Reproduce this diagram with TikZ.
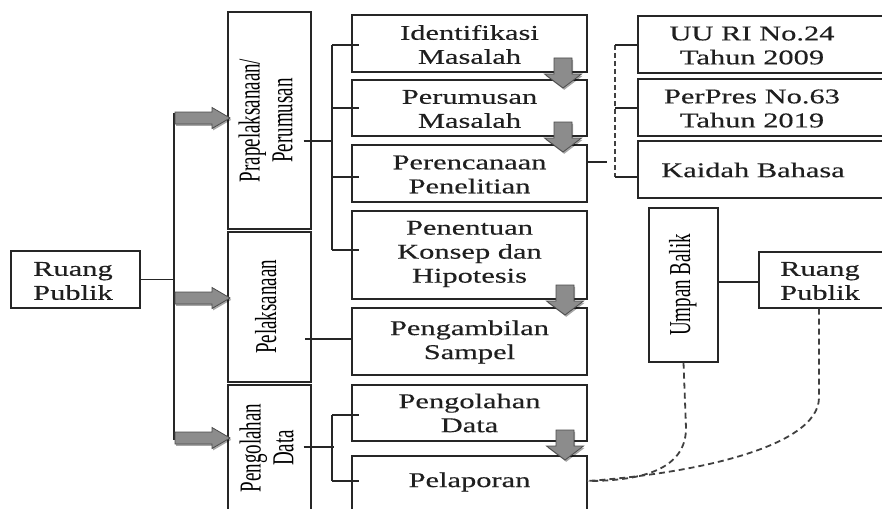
\documentclass[tikz,border=0pt]{standalone}
\usepackage{graphicx}
\usepackage{fontspec}
\setmainfont{Liberation Serif}
\newfontfamily\widefont[FakeStretch=1.45, FakeBold=0.3]{Liberation Serif}
\usetikzlibrary{shadows,calc}
\newcommand{\vtxt}[1]{\rotatebox{90}{\scalebox{1}[1.6]{\fontsize{19}{20.5}\selectfont\begin{tabular}{@{}c@{}}#1\end{tabular}}}}
\tikzset{
  box/.style={draw=black!85, line width=1.2pt, inner sep=0pt, fill=white},
  htext/.style={font=\widefont\fontsize{21}{24}\selectfont, align=center, text=black!88, inner sep=0pt},
  link/.style={draw=black!85, line width=1.1pt},
  dlink/.style={draw=black!75, line width=1.8pt, dash pattern=on 6pt off 4pt},
  arrowfill/.style={fill=black!45, draw=black!70, line width=0.8pt,
     drop shadow={shadow xshift=1.2pt, shadow yshift=-1.8pt, opacity=0.35, fill=black}},
  rarrow/.pic={\path[arrowfill] (0,-6) -- (37,-6) -- (37,-10.5) -- (55,0) -- (37,10.5) -- (37,6) -- (0,6) -- cycle;},
  darrow/.pic={\path[arrowfill] (-9,0) -- (9,0) -- (9,16) -- (18.5,16) -- (0,30) -- (-18.5,16) -- (-9,16) -- cycle;}
}
\begin{document}
\begin{tikzpicture}[x=1pt,y=-1pt]
\useasboundingbox (0,0) rectangle (882,508);
\clip (0,0) rectangle (882,508);

% left box
\node[box, minimum width=129pt, minimum height=57pt] (rpl) at (75.5,279.5) {};
\node[htext] (rplt) at (73,281) {Ruang\\Publik};

% column 2
\node[box, minimum width=83pt, minimum height=217pt] (pra) at (269.5,120.5) {\vtxt{Prapelaksanaan/\\Perumusan}};
\node[box, minimum width=83pt, minimum height=150pt] (pel) at (269.5,307) {\vtxt{Pelaksanaan}};
\node[box, minimum width=83pt, minimum height=136pt] (peng) at (269.5,453) {};
\node (pengt) at (270.5,448) {\vtxt{Pengolahan\\Data}};

% column 3
\node[box, minimum width=235pt, minimum height=57pt] (idn) at (469.5,43.5) {};
\node[htext] (idnt) at (469.5,44.5) {Identifikasi\\Masalah};
\node[box, minimum width=235pt, minimum height=56pt] (prm) at (469.5,108) {};
\node[htext] (prmt) at (469.5,109) {Perumusan\\Masalah};
\node[box, minimum width=235pt, minimum height=57pt] (prc) at (469.5,173.5) {};
\node[htext] (prct) at (469.5,174.5) {Perencanaan\\Penelitian};
\node[box, minimum width=235pt, minimum height=88pt] (pnt) at (469.5,255) {};
\node[htext] (pntt) at (469.5,254) {Penentuan\\Konsep dan\\Hipotesis};
\node[box, minimum width=235pt, minimum height=67pt] (pmb) at (469.5,341.5) {};
\node[htext] (pmbt) at (469.5,342) {Pengambilan\\Sampel};
\node[box, minimum width=235pt, minimum height=56pt] (pld) at (469.5,413) {};
\node[htext] (pldt) at (469.5,413) {Pengolahan\\Data};
\node[box, minimum width=235pt, minimum height=70pt] (plp) at (469.5,491) {};
\node[htext] (plpt) at (469.5,482) {Pelaporan};

% column 4
\node[box, minimum width=262pt, minimum height=57pt] (uu) at (769,44.5) {};
\node[htext] (uut) at (752,45.5) {UU RI No.24\\Tahun 2009};
\node[box, minimum width=262pt, minimum height=57pt] (pp) at (769,107.5) {};
\node[htext] (ppt) at (752,108.5) {PerPres No.63\\Tahun 2019};
\node[box, minimum width=262pt, minimum height=57pt] (kb) at (769,169.5) {};
\node[htext] (kbt) at (753,170) {Kaidah Bahasa};

\node[box, minimum width=69pt, minimum height=154pt] (ub) at (683.5,285) {\vtxt{Umpan Balik}};
\node[box, minimum width=131pt, minimum height=56pt] (rpr) at (824.5,280) {};
\node[htext] (rprt) at (820,281) {Ruang\\Publik};

% trunk
\coordinate (t0) at (174,113);
\coordinate (t1) at (174,440);
\draw[link] (t0) -- (t1);
\draw[link] (rpl.east) -- (rpl.east -| t0);
\pic at (175,118) {rarrow};
\pic at (175,298) {rarrow};
\pic at (175,438) {rarrow};

% bracket 1
\coordinate (b1) at (332,45);
\coordinate (b2) at (332,108);
\coordinate (b3) at (332,177);
\coordinate (b4) at (332,250);
\coordinate (p0) at (332,141);
\draw[link] (b1) -- (b4);
\draw[link] ([xshift=-8pt]p0 -| pra.east) -- (p0);
\foreach \b/\n in {b1/idn,b2/prm,b3/prc,b4/pnt}
  \draw[link] (\b) -- ([xshift=8pt]\b -| \n.west);

% pelaksanaan link
\coordinate (q0) at (305,339);
\draw[link] (q0) -- (q0 -| pmb.west);

% bracket 3
\coordinate (c1) at (332,415);
\coordinate (c2) at (332,481);
\coordinate (c0) at (332,447);
\draw[link] (c1) -- (c2);
\draw[link] ([xshift=-8pt]c0 -| peng.east) -- ([xshift=2pt]c0);
\draw[link] (c1) -- ([xshift=8pt]c1 -| pld.west);
\draw[link] (c2) -- ([xshift=8pt]c2 -| plp.west);

% dashed bracket right
\coordinate (d1) at (615,45);
\coordinate (d2) at (615,108);
\coordinate (d3) at (615,177);
\coordinate (e0) at (607,162);
\draw[dlink, line width=1.2pt, dash pattern=on 5pt off 3pt] (d1) -- (d3);
\draw[link] (d1) -- (d1 -| uu.west);
\draw[link] (d2) -- (d2 -| pp.west);
\draw[link] (d3) -- (d3 -| kb.west);
\draw[link] (e0 -| prc.east) -- (e0);

% umpan balik - ruang publik
\draw[link] (ub.east |- 0,282) -- (rpr.west |- 0,282);

% dashed curves
\coordinate (f0) at (587,481);
\draw[dlink] (ub.south) -- (686,428) .. controls (686,468) and (645,481) .. (f0);
\draw[dlink] (rpr.south -| 819,0) -- (819,398) .. controls (818,448) and (690,474) .. (f0);

% down arrows
\pic at (563,58) {darrow};
\pic at (563,122) {darrow};
\pic at (565,285) {darrow};
\pic at (565,430) {darrow};
\end{tikzpicture}
\end{document}
